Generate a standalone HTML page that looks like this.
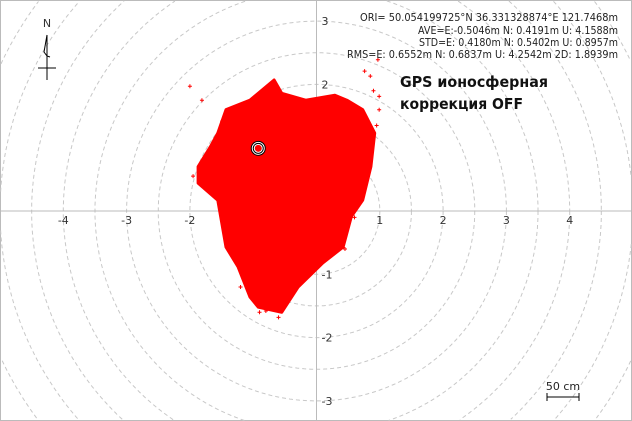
<!DOCTYPE html>
<html><head><meta charset="utf-8"><style>
html,body{margin:0;padding:0;background:#fff;width:632px;height:421px;overflow:hidden}
svg{display:block;overflow:hidden;font-family:Tahoma,"DejaVu Sans","Liberation Sans",sans-serif}
</style></head><body>
<svg id="chart" width="632" height="421" viewBox="0 0 632 421" xmlns="http://www.w3.org/2000/svg">
<rect x="0.5" y="0.5" width="631" height="420" fill="#fff" stroke="#bbb"/>
<g id="rings"></g>
<line x1="0" y1="211" x2="632" y2="211" stroke="#bbb"/>
<line x1="316.5" y1="0" x2="316.5" y2="421" stroke="#bbb"/>
<g id="ticks"></g>
<g id="cloud"></g>
<g>
<text x="47" y="27" font-size="11" text-anchor="middle" fill="#333">N</text>
<path d="M47,35 L44,52 L47,56 L50,57" fill="none" stroke="#000" stroke-width="1"/>
<line x1="47" y1="35" x2="47" y2="80" stroke="#000"/>
<line x1="38" y1="68" x2="56" y2="68" stroke="#000"/>
</g>
<g font-size="10.5" fill="#222">
<text x="360" y="21" textLength="258" lengthAdjust="spacingAndGlyphs">ORI= 50.054199725°N   36.331328874°E 121.7468m</text>
<text x="418" y="34" textLength="200" lengthAdjust="spacingAndGlyphs">AVE=E:-0.5046m N: 0.4191m U: 4.1588m</text>
<text x="419" y="46" textLength="199" lengthAdjust="spacingAndGlyphs">STD=E: 0.4180m N: 0.5402m U: 0.8957m</text>
<text x="347" y="58" textLength="271" lengthAdjust="spacingAndGlyphs">RMS=E: 0.6552m N: 0.6837m U: 4.2542m 2D: 1.8939m</text>
</g>
<g font-family="'DejaVu Sans','Liberation Sans',sans-serif" font-weight="bold" font-size="15" fill="#111">
<text x="400" y="87" textLength="148" lengthAdjust="spacingAndGlyphs">GPS ионосферная</text>
<text x="400" y="109" textLength="123" lengthAdjust="spacingAndGlyphs">коррекция OFF</text>
</g>
<g>
<text x="563" y="390" font-size="11" text-anchor="middle" fill="#222">50 cm</text>
<line x1="547" y1="397" x2="579" y2="397" stroke="#000"/>
<line x1="547" y1="393" x2="547" y2="401" stroke="#000"/>
<line x1="579" y1="393" x2="579" y2="401" stroke="#000"/>
</g>
</svg>
<script>
const ringRadii=[0.5,1,1.5,2,2.5,3,3.5,4,4.5,5,5.5,6,6.5,7];
const xTicks=[-4,-3,-2,1,2,3,4];
const yTicks=[3,2,1,-1,-2,-3];
const cloudE=[-1.43,-1.05,-0.67,-0.55,-0.17,0.29,0.48,0.73,0.92,0.86,0.73,0.55,0.42,0.10,-0.29,-0.55,-0.92,-1.05,-1.24,-1.43,-1.56,-1.87,-1.87,-1.68,-1.56];
const cloudN=[1.60,1.75,2.07,1.86,1.75,1.83,1.75,1.60,1.23,0.70,0.17,-0.09,-0.57,-0.82,-1.20,-1.60,-1.52,-1.36,-0.88,-0.57,0.17,0.44,0.70,1.01,1.23];
const outE=[-2.0,-1.81,-1.49,0.76,0.85,0.97,0.99,0.99,0.9,-0.9,-1.2,0.6,0.45,-1.95,-1.7,0.95,-0.6,-0.8];
const outN=[1.97,1.75,1.42,2.21,2.13,2.39,1.81,1.6,1.9,-1.6,-1.2,-0.1,-0.6,0.55,0.95,1.35,-1.68,-1.58];
const meanE=[-0.92], meanN=[0.99];
const cx=316.5, cy=211, u=63.3, W=632, H=421;
const X=v=>cx+v*u, Y=v=>cy-v*u;
const NS='http://www.w3.org/2000/svg';
function mk(t,a,p){const e=document.createElementNS(NS,t);for(const k in a)e.setAttribute(k,a[k]);p.appendChild(e);return e;}
const rings=document.getElementById('rings');
ringRadii.forEach(r=>{
  const R=r*u, n=720; let d='', pen=false;
  for(let i=0;i<=n;i++){
    const a=i/n*2*Math.PI, x=cx+R*Math.cos(a), y=cy+R*Math.sin(a);
    const inside=x>=0.5&&x<=W-0.5&&y>=0.5&&y<=H-0.5;
    if(inside){d+=(pen?'L':'M')+x.toFixed(1)+','+y.toFixed(1);pen=true;}else pen=false;
  }
  if(!d) return;
  const c=mk('path',{d:d,fill:'none',stroke:'#c8c8c8','stroke-dasharray':'4,3'},rings);
  
  
});
const ticks=document.getElementById('ticks');
xTicks.forEach(v=>{const t=mk('text',{x:X(v),y:cy+13,'font-size':11,'text-anchor':'middle',fill:'#333'},ticks);t.textContent=v;

});
yTicks.forEach(v=>{const t=mk('text',{x:cx+5,y:Y(v)+4,'font-size':11,fill:'#333'},ticks);t.textContent=v;

});
const cloud=document.getElementById('cloud');
const pts=cloudE.map((e,i)=>X(e).toFixed(1)+','+Y(cloudN[i]).toFixed(1)).join(' ');
const poly=mk('polygon',{points:pts,fill:'#f00',stroke:'#f00','stroke-width':3,'stroke-linejoin':'round'},cloud);


outE.forEach((e,i)=>{const x=X(e),y=Y(outN[i]);
const p=mk('path',{d:`M${x-2},${y}H${x+2}M${x},${y-2}V${y+2}`,stroke:'#f00','stroke-width':1},cloud);

});
meanE.forEach((e,i)=>{const g=mk('g',{},cloud);


mk('circle',{cx:X(e),cy:Y(meanN[i]),r:7,fill:'#fff',stroke:'#000','stroke-width':1},g);
mk('circle',{cx:X(e),cy:Y(meanN[i]),r:5,fill:'none',stroke:'#000','stroke-width':1},g);
mk('circle',{cx:X(e),cy:Y(meanN[i]),r:3.5,fill:'#f00'},g);});
</script>
</body></html>
